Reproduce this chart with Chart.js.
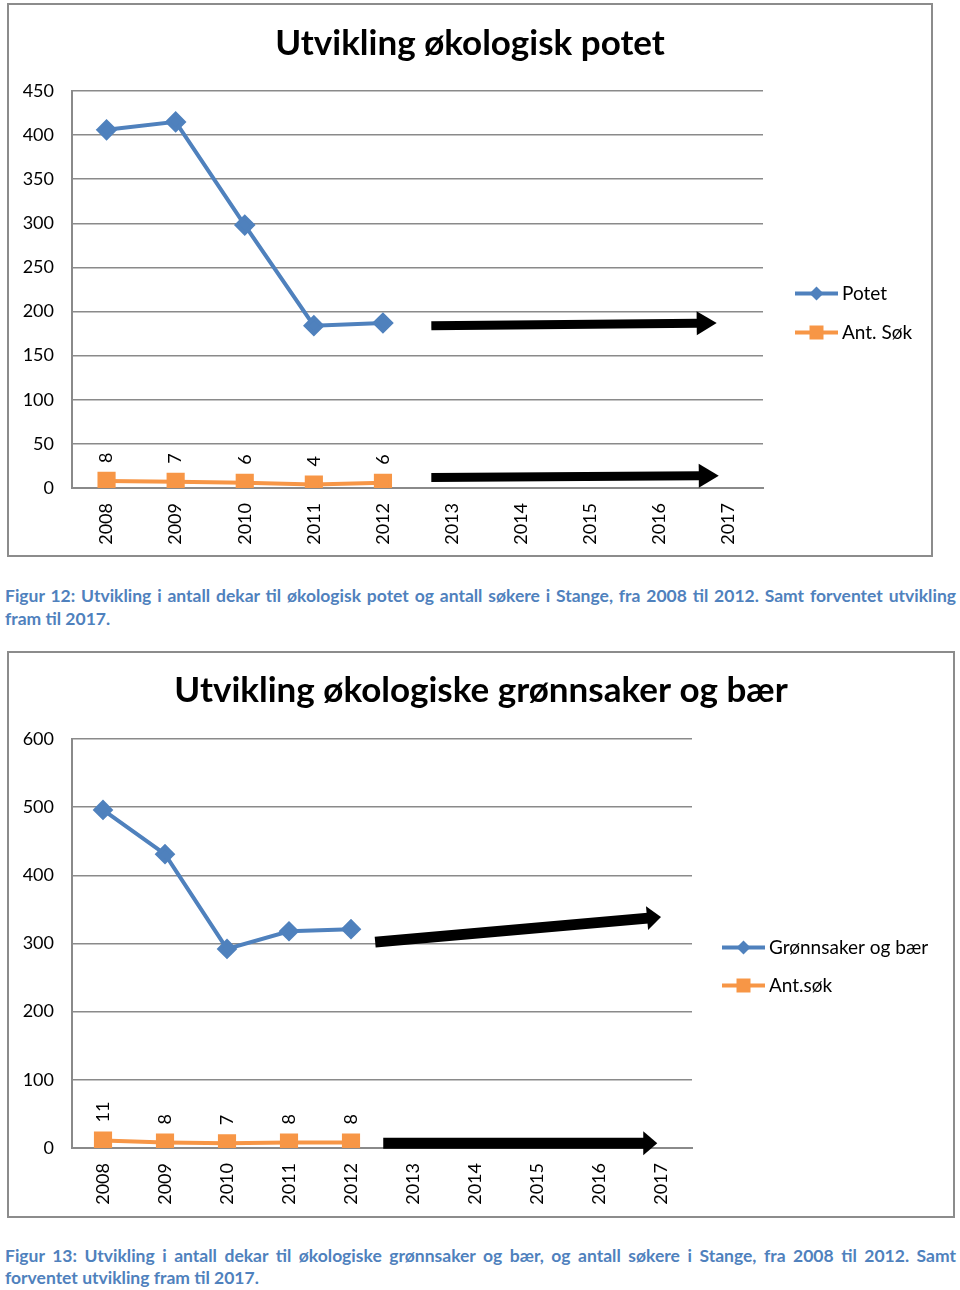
<!DOCTYPE html>
<html>
<head>
<meta charset="utf-8">
<title>Utvikling økologisk potet og grønnsaker</title>
<script src="https://cdn.jsdelivr.net/npm/chart.js"></script>
<style>
    body { margin: 0; background: #fff; font-family: Lato, sans-serif; }
    .box { position: absolute; border: 2px solid #8c8c8c; box-sizing: border-box; background: #fff; }
    .box canvas { position: absolute; left: 0; top: 0; }
    .caption { position: absolute; left: 5px; width: 951px; color: #4F81BD; font-weight: bold; font-size: 17.5px; }
    .caption .l1 { text-align: justify; text-align-last: justify; }
</style>
</head>
<body>
    <div class="box" style="left:7px; top:3px; width:926px; height:554px;">
        <canvas id="potetChart" width="922" height="550"></canvas>
    </div>
    <div class="caption" style="top:584px; line-height:23px;">
        <div class="l1">Figur 12: Utvikling i antall dekar til økologisk potet og antall søkere i Stange, fra 2008 til 2012. Samt forventet utvikling</div>
        <div>fram til 2017.</div>
    </div>

    <div class="box" style="left:7px; top:651px; width:948px; height:567px;">
        <canvas id="grontChart" width="944" height="563"></canvas>
    </div>
    <div class="caption" style="top:1245px; line-height:22px;">
        <div class="l1">Figur 13: Utvikling i antall dekar til økologiske grønnsaker og bær, og antall søkere i Stange, fra 2008 til 2012. Samt</div>
        <div>forventet utvikling fram til 2017.</div>
    </div>

<script>
    // data
    const years = ["2008", "2009", "2010", "2011", "2012", "2013", "2014", "2015", "2016", "2017"];

    const potet = [406, 415, 298, 184, 187];
    const potetSok = [8, 7, 6, 4, 6];
    // trend arrows: [category index, value]
    const potetArrowFrom = [[4.70, 184], [4.70, 12]];
    const potetArrowTo = [[8.83, 187], [8.86, 14]];

    const gront = [496, 431, 292, 318, 321];
    const grontSok = [11, 8, 7, 8, 8];
    const grontArrowFrom = [[4.39, 302], [4.52, 7]];
    const grontArrowTo = [[9.00, 339], [8.94, 7]];

    const BLUE = "#4F81BD";
    const ORANGE = "#F79646";
    const GRID = "#8a8a8a";

    Chart.defaults.font.family = "Lato, sans-serif";
    Chart.defaults.color = "#000";

    // draws the black trend arrows through the chart scales
    function arrowPlugin(from, to, width, headLen, headHalf) {
        return {
            id: "trendArrows",
            afterDatasetsDraw(chart) {
                const ctx = chart.ctx;
                const x = chart.scales.x, y = chart.scales.y;
                ctx.save();
                ctx.fillStyle = "#000";
                ctx.strokeStyle = "#000";
                ctx.lineWidth = width;
                ctx.lineCap = "butt";
                for (let i = 0; i < from.length; i++) {
                    const x0 = x.getPixelForValue(from[i][0]), y0 = y.getPixelForValue(from[i][1]);
                    const x1 = x.getPixelForValue(to[i][0]), y1 = y.getPixelForValue(to[i][1]);
                    const a = Math.atan2(y1 - y0, x1 - x0);
                    const bx = x1 - headLen * Math.cos(a), by = y1 - headLen * Math.sin(a);
                    ctx.beginPath();
                    ctx.moveTo(x0, y0);
                    ctx.lineTo(bx + 1, by);
                    ctx.stroke();
                    ctx.beginPath();
                    ctx.moveTo(x1, y1);
                    ctx.lineTo(bx - headHalf * Math.sin(a), by + headHalf * Math.cos(a));
                    ctx.lineTo(bx + headHalf * Math.sin(a), by - headHalf * Math.cos(a));
                    ctx.closePath();
                    ctx.fill();
                }
                ctx.restore();
            }
        };
    }

    // rotated value labels over the second series
    const valueLabels = {
        id: "valueLabels",
        afterDatasetsDraw(chart) {
            const ctx = chart.ctx;
            const meta = chart.getDatasetMeta(1);
            const values = chart.data.datasets[1].data;
            ctx.save();
            ctx.font = "18px Lato, sans-serif";
            ctx.fillStyle = "#000";
            ctx.textAlign = "left";
            ctx.textBaseline = "middle";
            meta.data.forEach((pt, i) => {
                ctx.save();
                ctx.translate(pt.x, pt.y - 18);
                ctx.rotate(-Math.PI / 2);
                ctx.fillText(String(values[i]), 0, 0);
                ctx.restore();
            });
            ctx.restore();
        }
    };

    // Excel-style legend: line with marker, then text
    function legendPlugin(dx, dy, gap) {
        return {
            id: "sideLegend",
            afterDraw(chart) {
                const ctx = chart.ctx;
                const area = chart.chartArea;
                const left = area.right + dx;
                let top = (area.top + area.bottom) / 2 + dy;
                ctx.save();
                chart.data.datasets.forEach(ds => {
                    ctx.strokeStyle = ds.borderColor;
                    ctx.lineWidth = 4;
                    ctx.beginPath();
                    ctx.moveTo(left, top);
                    ctx.lineTo(left + 43, top);
                    ctx.stroke();
                    ctx.fillStyle = ds.borderColor;
                    const cx = left + 21.5;
                    ctx.beginPath();
                    if (ds.pointStyle === "rectRot") {
                        ctx.moveTo(cx, top - 7);
                        ctx.lineTo(cx + 7, top);
                        ctx.lineTo(cx, top + 7);
                        ctx.lineTo(cx - 7, top);
                    } else {
                        ctx.rect(cx - 7, top - 7, 14, 14);
                    }
                    ctx.fill();
                    ctx.fillStyle = "#000";
                    ctx.font = "19px Lato, sans-serif";
                    ctx.textBaseline = "middle";
                    ctx.fillText(ds.label, left + 47, top);
                    top += gap;
                });
                ctx.restore();
            }
        };
    }

    function makeChart(id, opt) {
        const ctx = document.getElementById(id).getContext("2d");
        return new Chart(ctx, {
            type: "line",
            data: {
                labels: years,
                datasets: [
                    {
                        label: opt.names[0],
                        data: opt.main,
                        borderColor: BLUE,
                        backgroundColor: BLUE,
                        borderWidth: 4,
                        pointStyle: "rectRot",
                        pointRadius: opt.diamond,
                        tension: 0,
                    },
                    {
                        label: opt.names[1],
                        data: opt.sok,
                        borderColor: ORANGE,
                        backgroundColor: ORANGE,
                        borderWidth: 4,
                        pointStyle: "rect",
                        pointRadius: opt.square,
                        tension: 0,
                    },
                ],
            },
            options: {
                responsive: false,
                animation: false,
                events: [],
                plugins: {
                    legend: { display: false },
                    tooltip: { enabled: false },
                    title: {
                        display: true,
                        text: opt.title,
                        color: "#000",
                        font: { size: 35, weight: "bold" },
                        padding: opt.titlePad,
                    },
                },
                scales: {
                    x: {
                        offset: true,
                        grid: { display: false, drawTicks: false },
                        border: { display: true, color: GRID, width: 2 },
                        ticks: { minRotation: 90, maxRotation: 90, autoSkip: false, padding: 15, font: { size: 18 } },
                        afterFit: s => { s.height = opt.xHeight; },
                    },
                    y: {
                        min: 0,
                        max: opt.max,
                        ticks: { stepSize: opt.step, padding: 18, font: { size: 18 } },
                        grid: { color: GRID, lineWidth: 1.5, drawTicks: false },
                        border: { display: true, color: GRID, width: 2 },
                        afterFit: s => { s.width = 63; },
                    },
                    // empty axis that keeps room for the legend on the right
                    side: {
                        position: "right",
                        min: 0,
                        max: opt.max,
                        grid: { display: false, drawTicks: false },
                        border: { display: false },
                        ticks: { display: false },
                        afterFit: s => { s.width = opt.padRight; },
                    },
                },
            },
            plugins: [
                arrowPlugin(opt.arrowFrom, opt.arrowTo, opt.arrowWidth, opt.headLen, opt.headHalf),
                valueLabels,
                legendPlugin(opt.legendDx, opt.legendDy, opt.legendGap),
            ],
        });
    }

    makeChart("potetChart", {
        title: "Utvikling økologisk potet",
        names: ["Potet", "Ant. Søk"],
        main: potet,
        sok: potetSok,
        max: 450,
        step: 50,
        diamond: 8,
        square: 10,
        padRight: 168,
        titlePad: { top: 18, bottom: 26 },
        xHeight: 67,
        arrowFrom: potetArrowFrom,
        arrowTo: potetArrowTo,
        arrowWidth: 9,
        headLen: 20,
        headHalf: 12,
        legendDx: 32,
        legendDy: 4,
        legendGap: 39,
    });

    makeChart("grontChart", {
        title: "Utvikling økologiske grønnsaker og bær",
        names: ["Grønnsaker og bær", "Ant.søk"],
        main: gront,
        sok: grontSok,
        max: 600,
        step: 100,
        diamond: 7.5,
        square: 10,
        padRight: 261,
        titlePad: { top: 17, bottom: 27 },
        xHeight: 68,
        arrowFrom: grontArrowFrom,
        arrowTo: grontArrowTo,
        arrowWidth: 11,
        headLen: 14,
        headHalf: 12,
        legendDx: 30,
        legendDy: 4,
        legendGap: 38,
    });
</script>
</body>
</html>
